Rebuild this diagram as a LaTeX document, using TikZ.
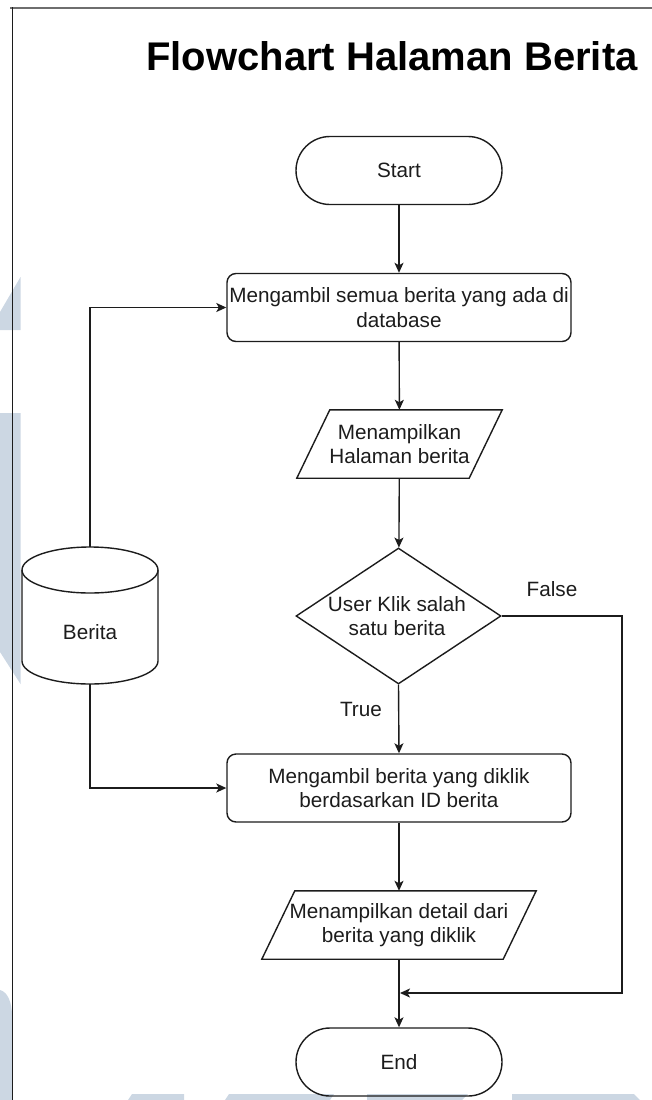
\documentclass[tikz,border=0pt]{standalone}
\usepackage{fontspec}
\setmainfont{Liberation Sans}
\usetikzlibrary{arrows.meta,shapes.geometric}
\definecolor{wm}{RGB}{204,215,227}
\definecolor{ink}{RGB}{28,28,28}
\definecolor{framegray}{RGB}{110,110,110}

\begin{document}
\begin{tikzpicture}[x=1pt,y=-1pt,
  every node/.style={font=\fontsize{20.7}{24.5}\selectfont, text=ink},
  lw/.style={line width=1.4pt, draw=ink},
  term/.style={lw, rounded corners=34pt, minimum width=206pt, minimum height=68pt, inner sep=0pt},
  procbox/.style={lw, rounded corners=9pt, minimum width=344pt, minimum height=68pt, inner sep=0pt, align=center},
  iobox/.style={minimum width=#1, minimum height=68pt, inner sep=0pt, align=center},
  iobox/.default=172pt,
  decbox/.style={lw, diamond, minimum width=205pt, minimum height=136pt, inner sep=0pt},
  store/.style={minimum width=136pt, minimum height=137pt, inner sep=0pt},
  arr/.style={lw, -{Stealth[length=10pt,width=9pt,inset=2.5pt]}},
  lbl/.style={inner sep=0pt}
]
\useasboundingbox (0,0) rectangle (652,1100);

% faint background marks
\fill[wm] (0,312) -- (20.5,277) -- (20.5,330) -- (0,330) -- cycle;
\fill[wm] (0,413) -- (20.5,413) -- (20.5,684) -- (0,652) -- cycle;
\fill[wm] (0,990) .. controls (8,992) and (12,1003) .. (12,1016) -- (12,1100) -- (0,1100) -- cycle;
\fill[wm] (128,1100) -- (132,1094) -- (184,1094) -- (184,1100) -- cycle;
\fill[wm] (225,1100) -- (229,1094) -- (334,1094) -- (330,1100) -- cycle;
\fill[wm] (367,1100) -- (367,1094) -- (468,1094) -- (462,1100) -- cycle;
\fill[wm] (512,1100) -- (512,1094) -- (634,1094) -- (640,1100) -- cycle;

% page frame
\draw[framegray, line width=2pt] (10,7.5) -- (652,7.5);
\draw[ink, line width=1pt] (12,7) -- (12,1100);

% title
\node[anchor=base, font=\fontsize{40}{48}\selectfont\bfseries, text=black] (title) at (392,70) {Flowchart Halaman Berita};

% flow nodes
\node[term] (start) at (399,170.5) {Start};
\node[procbox] (b1) at (399,307.5) {Mengambil semua berita yang ada di\\database};
\node[iobox] (p1) at (399.5,444) {Menampilkan\\Halaman berita};
\draw[lw, line join=miter] ([xshift=16.5pt]p1.north west) -- ([xshift=16.5pt]p1.north east)
  -- ([xshift=-16.5pt]p1.south east) -- ([xshift=-16.5pt]p1.south west) -- cycle;
\node[decbox] (d) at (398.5,616) {};
\node[lbl, align=center] (dtext) at (397,616) {User Klik salah\\satu berita};
\node[procbox] (b2) at (399,788) {Mengambil berita yang diklik\\berdasarkan ID berita};
\node[iobox=241pt] (p2) at (399,925) {Menampilkan detail dari\\berita yang diklik};
\draw[lw, line join=miter] ([xshift=16.5pt]p2.north west) -- ([xshift=16.5pt]p2.north east)
  -- ([xshift=-16.5pt]p2.south east) -- ([xshift=-16.5pt]p2.south west) -- cycle;
\node[term] (end) at (399,1062) {End};

% data store: cylinder spanning y 547..684
\node[store] (db) at (90,615.5) {};
\draw[lw] (22,570) arc[start angle=180, end angle=-180, x radius=68, y radius=23];
\draw[lw] (22,570) -- (22,661) arc[start angle=180, end angle=0, x radius=68, y radius=23] -- (158,570);
\node[lbl] (dbtext) at (90,632) {Berita};

% connectors
\draw[arr] (start) -- (b1);
\draw[arr] (b1) -- (p1);
\draw[arr] (p1) -- (d);
\draw[arr] (d.south) -- (b2.north);
\draw[arr] (b2) -- (p2);
\draw[arr] (p2.south) -- (end.north);
\draw[arr] (db.north) |- (b1.west);
\draw[arr] (db.south) |- (b2.west);
\coordinate (rt) at (622,993);
\coordinate (join) at (400,993);
\draw[arr] (d.east) -| (rt) -- (join);

% branch labels
\node[lbl] (f) at (552,589) {False};
\node[lbl] (t) at (361,709) {True};
\end{tikzpicture}
\end{document}
